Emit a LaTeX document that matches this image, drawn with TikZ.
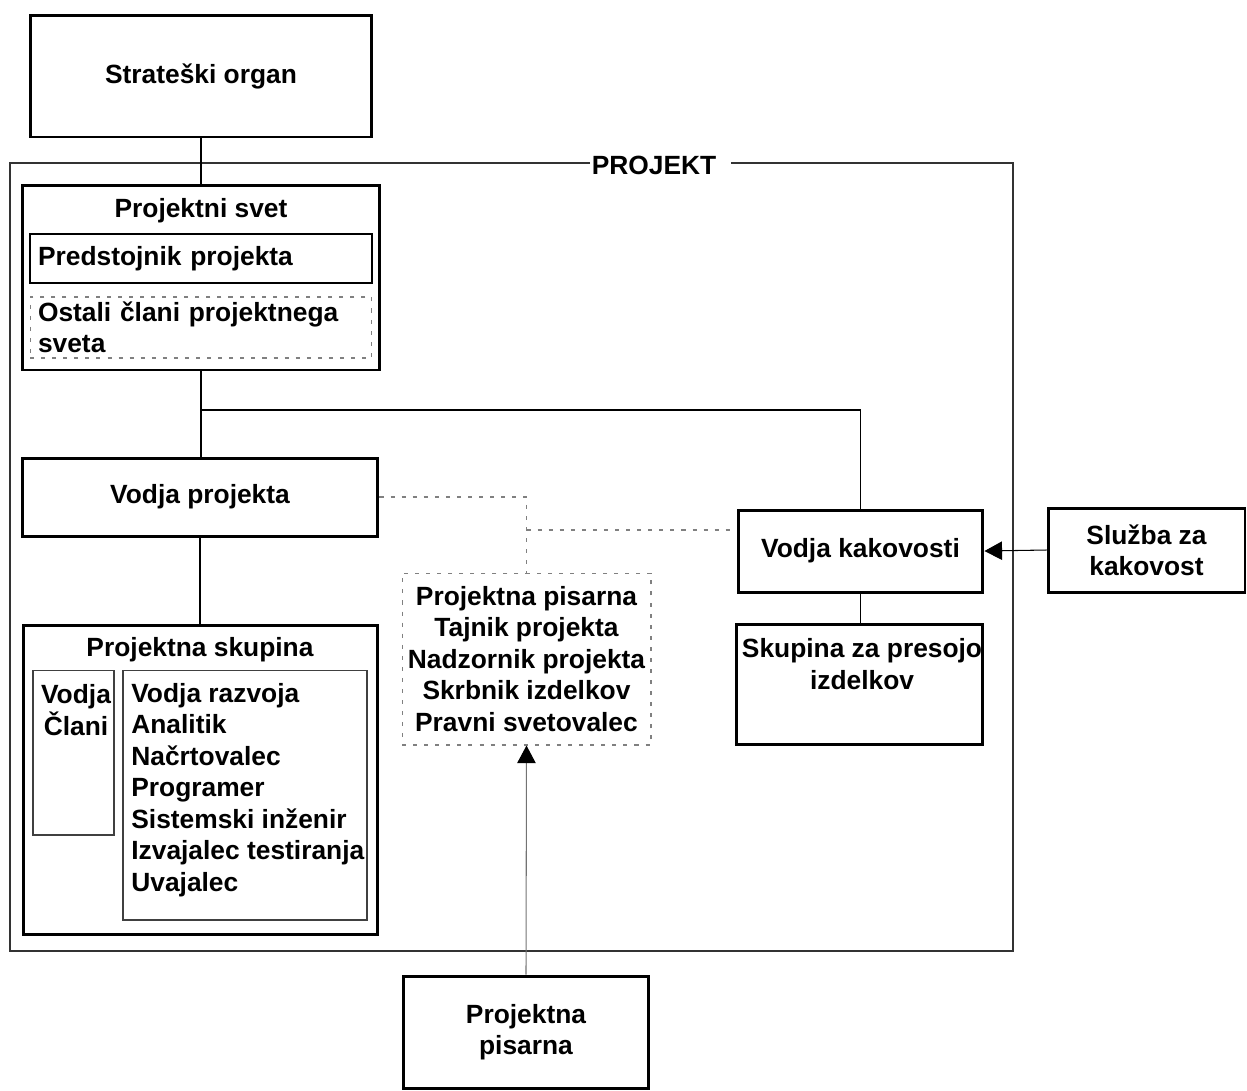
\documentclass[tikz,border=0pt]{standalone}
\usepackage{fontspec}
\setmainfont{Liberation Sans}
\usetikzlibrary{arrows.meta}
\begin{document}
\begin{tikzpicture}[x=0.02cm,y=-0.02cm,line join=miter,
    font=\bfseries\fontsize{15}{17.9}\selectfont,
    box/.style={draw,line width=1.7pt,inner sep=0pt},
    tenko/.style={draw,line width=0.6pt,color=black!75,inner sep=0pt},
    pike/.style={draw=black!50,line width=0.6pt,dash pattern=on 2.3pt off 4pt,inner sep=0pt},
    veza/.style={line width=1.1pt},
    crtkano/.style={black!50,line width=0.6pt,dash pattern=on 2.3pt off 4pt},
    puscica/.style={line width=0.6pt,-{Triangle[length=10pt,width=10.5pt,color=black]}},
    okvir/.style={line width=0.6pt,black!80}]
            \useasboundingbox (0,0) rectangle (1247,1090);

            % zunanji organ
            \node[box,minimum width=6.84cm,minimum height=2.44cm] (strat) at (201,76) {Strateški organ};

            % okvir projekta
            \draw[okvir] (590,163) -- (10,163) -- (10,951) -- (1013,951) -- (1013,163) -- (731,163);
            \node (projekt) at (654,165) {PROJEKT};

            % projektni svet
            \node[box,minimum width=7.16cm,minimum height=3.7cm] (svet) at (201,277.5) {};
            \node (svetnaslov) at (201,211) {Projektni svet};
            \node[box,line width=1.1pt,text width=6.52cm,inner xsep=0.16cm,
                minimum height=0.98cm,align=left] (pred) at (201,258.5) {Predstojnik projekta};
            \node[pike,text width=6.52cm,inner xsep=0.16cm,
                minimum height=1.22cm,align=left] (ostali) at (201,327.5) {Ostali člani projektnega\\sveta};

            % vodja projekta in skupina
            \node[box,minimum width=7.12cm,minimum height=1.56cm] (vp) at (200,497) {Vodja projekta};
            \node[box,minimum width=7.1cm,minimum height=6.2cm] (skup) at (200.5,780) {};
            \node (skupnaslov) at (200,650) {Projektna skupina};
            \node[tenko,minimum width=1.62cm,minimum height=3.3cm] (vodje) at (73.5,752.5) {};
            \node[align=center] (vodjetxt) at (76,710) {Vodja\\Člani};
            \node[tenko,minimum width=4.88cm,minimum height=5cm] (clani) at (245,795) {};
            \node[anchor=west,align=left,inner sep=0pt] (clanitxt) at (131,790)
                {Vodja razvoja\\Analitik\\Načrtovalec\\Programer\\Sistemski inženir\\Izvajalec testiranja\\Uvajalec};

            % podpora projektu
            \node[pike,minimum width=4.98cm,minimum height=3.44cm,align=center] (pis) at (526.5,659)
                {Projektna pisarna\\Tajnik projekta\\Nadzornik projekta\\Skrbnik izdelkov\\Pravni svetovalec};
            \node[box,minimum width=4.92cm,minimum height=2.24cm,align=center] (pisarna) at (526,1032)
                {Projektna\\pisarna};

            % kakovost
            \node[box,minimum width=4.9cm,minimum height=1.64cm] (vk) at (860.5,551) {Vodja kakovosti};
            \node[box,minimum width=4.94cm,minimum height=2.4cm] (presoja) at (859.5,684) {};
            \node[align=center] (presojatxt) at (862,664) {Skupina za presojo\\izdelkov};
            \node[box,minimum width=3.94cm,minimum height=1.68cm,align=center] (sluzba) at (1146.5,550)
                {Služba za\\kakovost};

            % povezave
            \coordinate (razcep) at (201,410);
            \coordinate (stik) at (526.5,530);
            \draw[veza] (strat.south) -- (svet.north);
            \draw[veza] (svet.south) -- (razcep) -| (vk.north);
            \draw[veza] (razcep) -- (razcep |- vp.north);
            \draw[veza] (vp.south) -- (vp.south |- skup.north);
            \draw[veza] (vk.south) -- (vk.south |- presoja.north);
            \draw[crtkano] (vp.east) -| (pis.north);
            \draw[crtkano] (stik) -- (stik -| vk.west);
            \draw[puscica,draw=black!55] (pisarna.north) -- (pis.south);
            \draw[puscica] (sluzba.west) -- (vk.east);
        \end{tikzpicture}
\end{document}
